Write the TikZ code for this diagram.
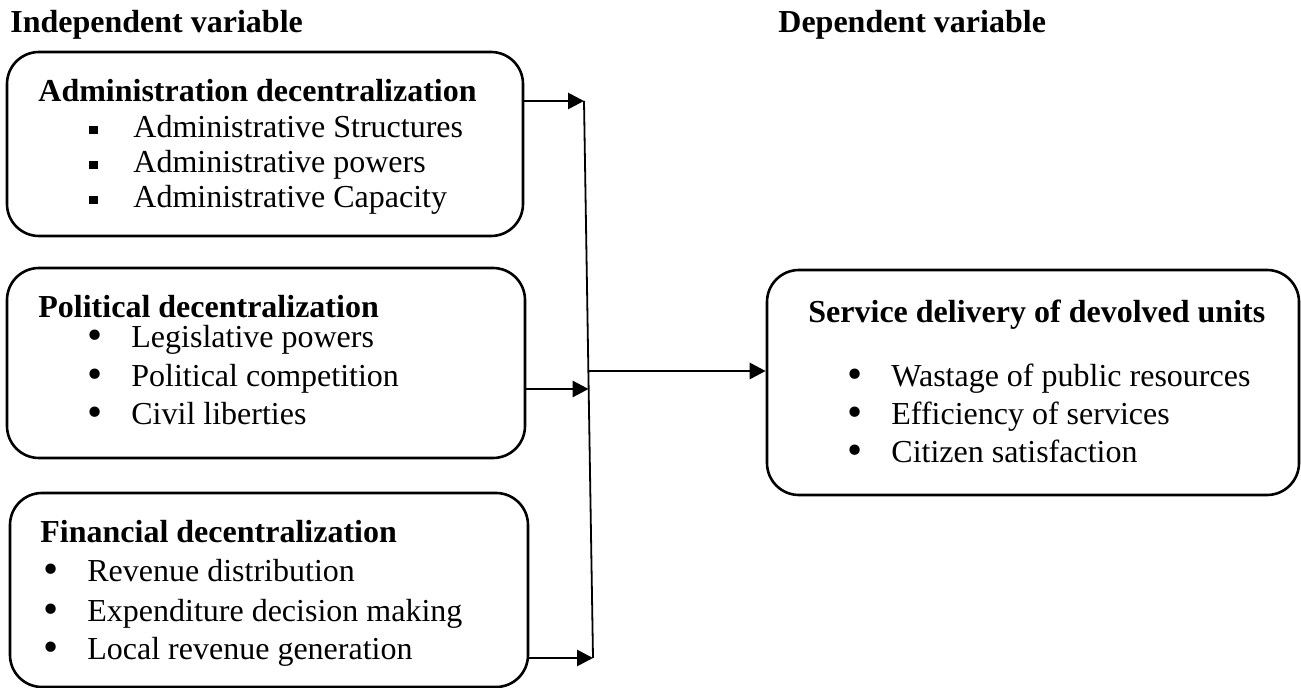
\documentclass[tikz,border=0pt]{standalone}
\usepackage{fontspec}
\setmainfont{Liberation Serif}
\usetikzlibrary{positioning, arrows.meta, fit}

\newcommand{\sqb}{\rule[0.12em]{0.27em}{0.27em}}
\newcommand{\rdb}{\raisebox{-0.05em}{\scalebox{1.35}{\textbullet}}}
\newcommand{\itm}[2]{\makebox[22pt][l]{#1}#2}

\begin{document}
\begin{tikzpicture}[x=0.5pt, y=-0.5pt, font=\fontsize{16}{19}\selectfont,
    box/.style={draw, rounded corners=16pt, line width=1.3pt, inner sep=0pt},
    txt/.style={anchor=base west, inner sep=0pt},
    head/.style={txt, font=\fontsize{16}{19}\selectfont\bfseries},
    arr/.style={-{Triangle[length=8pt, width=8pt]}, line width=1.4pt}]
    \useasboundingbox (0,0) rectangle (1301,688);

    \node[head] (ivar) at (10,33) {Independent variable};
    \node[head] (dvar) at (778,33) {Dependent variable};

    % administration
    \node[box, fit={(7,52) (523,236)}] (adm) {};
    \node[head] (admt) at (38,102) {Administration decentralization};
    \node[txt] (adm1) at (89,138) {\itm{\sqb}{Administrative Structures}};
    \node[txt] (adm2) at (89,173) {\itm{\sqb}{Administrative powers}};
    \node[txt] (adm3) at (89,208) {\itm{\sqb}{Administrative Capacity}};

    % political
    \node[box, fit={(7,268) (525,458)}] (pol) {};
    \node[head] (polt) at (38,318) {Political decentralization};
    \node[txt] (pol1) at (87,348) {\itm{\rdb}{Legislative powers}};
    \node[txt] (pol2) at (87,387) {\itm{\rdb}{Political competition}};
    \node[txt] (pol3) at (87,425) {\itm{\rdb}{Civil liberties}};

    % financial
    \node[box, fit={(10,493) (528,687)}] (fin) {};
    \node[head] (fint) at (40,543) {Financial decentralization};
    \node[txt] (fin1) at (43,582) {\itm{\rdb}{Revenue distribution}};
    \node[txt] (fin2) at (43,622) {\itm{\rdb}{Expenditure decision making}};
    \node[txt] (fin3) at (43,660) {\itm{\rdb}{Local revenue generation}};

    % service delivery
    \node[box, fit={(767,270) (1299,495)}] (srv) {};
    \node[head] (srvt) at (808,323) {Service delivery of devolved units};
    \node[txt] (srv1) at (847,387) {\itm{\rdb}{Wastage of public resources}};
    \node[txt] (srv2) at (847,425) {\itm{\rdb}{Efficiency of services}};
    \node[txt] (srv3) at (847,463) {\itm{\rdb}{Citizen satisfaction}};

    % collecting line and arrows
    \coordinate (top) at (584,101);
    \coordinate (bot) at (593,658);
    \coordinate (mid) at (588.6,389);
    \coordinate (out) at (588.4,371);
    \draw[line width=0.9pt] (top) -- (bot);
    \draw[arr] (adm.east |- top) -- (top);
    \draw[arr] (pol.east |- mid) -- (mid);
    \draw[arr] (fin.east |- bot) -- (bot);
    \draw[arr] (out) -- (srv.west |- out);
\end{tikzpicture}
\end{document}
